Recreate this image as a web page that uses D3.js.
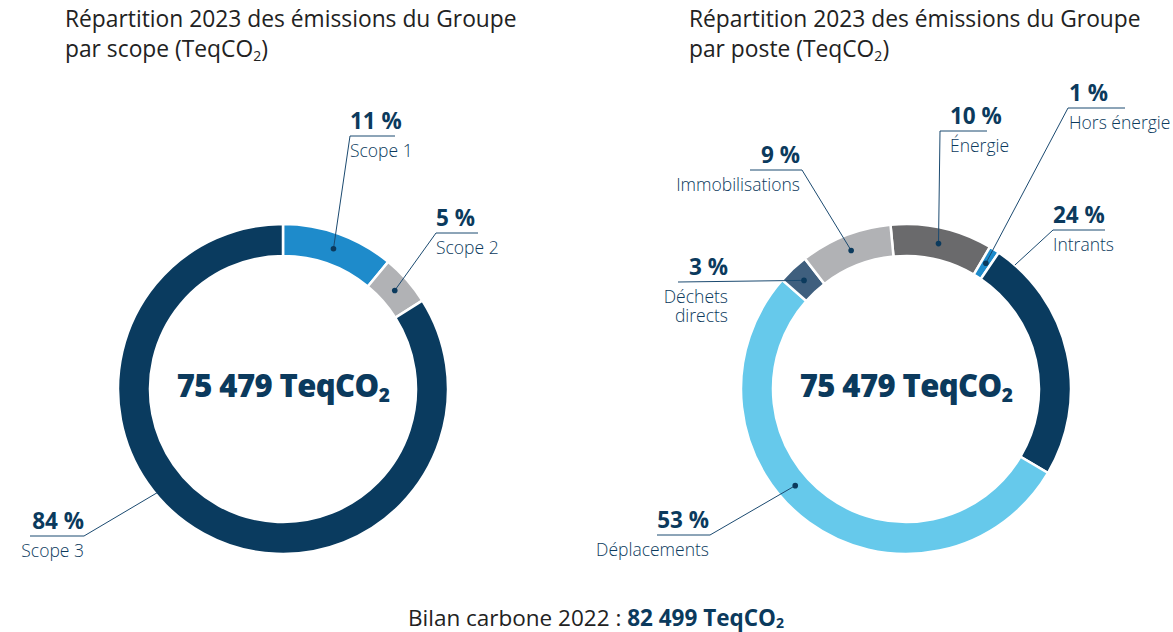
<!DOCTYPE html>
<html><head><meta charset="utf-8">
<script src="https://cdn.jsdelivr.net/npm/d3@7"></script>
<style>body{margin:0;background:#fff}svg{display:block}text{font-family:"Open Sans",sans-serif}</style>
</head><body><svg id="c" width="1173" height="632"></svg>
<script>
// ---- data ----
const scopeCategories = ["Scope 1", "Scope 2", "Scope 3"];
const scopeValues = [11, 5, 84];
const posteCategories = ["Énergie", "Hors énergie", "Intrants", "Déplacements", "Déchets directs", "Immobilisations"];
const posteValues = [10, 1, 24, 53, 3, 9];
const totalLabel = "75 479";
const total2022Label = "82 499";

// ---- styles ----
const scopeColors = ["#1e8bcb", "#b1b2b5", "#0a3b5f"];
const posteColors = ["#6a6a6c", "#1e8bcb", "#0a3b5f", "#66c9eb", "#3f5f7e", "#b1b2b5"];
const navy = "#0b3a5d", dark = "#222222";

// label layout (relative to donut centre)
const scopeLabelLayout = [
  {pts: [[67, -253], [112, -253]], side: "start", tx: 67},
  {pts: [[153, -156], [195, -156]], side: "start", tx: 153},
  {angle: 230.5, r: 163, dot: false, pts: [[-199, 147], [-253, 147]], side: "end", tx: -199}
];
const posteLabelLayout = [
  {pts: [[34, -258], [81, -258]], side: "start", tx: 44},
  {pts: [[162, -281], [219, -281]], side: "start", tx: 163},
  {angle: 41.3, r: 165, dot: false, pts: [[147, -159], [199, -159]], side: "start", tx: 147},
  {angle: 228.9, r: 147, pts: [[-196, 146], [-249, 146]], side: "end", tx: -197},
  {pts: [[-228, -107]], side: "end", tx: -178},
  {pts: [[-104, -219], [-156, -219]], side: "end", tx: -106}
];

const svg = d3.select("#c");
const R = 165, r0 = 133;

function drawTitle(x, word) {
  const t = svg.append("text").attr("x", x).attr("y", 27).attr("font-size", 22.8).attr("fill", dark);
  t.append("tspan").attr("x", x).text("Répartition 2023 des émissions du Groupe");
  t.append("tspan").attr("x", x).attr("dy", 30).text("par " + word + " (TeqCO");
  t.append("tspan").attr("font-size", 14).attr("dy", 4).text("2");
  t.append("tspan").attr("dy", -4).text(")");
}

function drawDonut(cx, cy, cats, vals, colors, layout, startDeg) {
  const g = svg.append("g").attr("transform", `translate(${cx},${cy})`);
  const a0 = startDeg * Math.PI / 180;
  const pie = d3.pie().sort(null).startAngle(a0).endAngle(a0 + 2 * Math.PI);
  const arcs = pie(vals);
  const arc = d3.arc().innerRadius(r0).outerRadius(R);
  g.selectAll("path.s").data(arcs).join("path").attr("class", "s")
    .attr("d", arc).attr("fill", (d, i) => colors[i])
    .attr("stroke", "#fff").attr("stroke-width", 2.5);

  const mid = (r0 + R) / 2;
  arcs.forEach((d, i) => {
    const L = layout[i];
    const ang = L.angle != null ? L.angle * Math.PI / 180 : (d.startAngle + d.endAngle) / 2;
    const rr = L.r != null ? L.r : mid;
    const p0 = [rr * Math.sin(ang), -rr * Math.cos(ang)];
    const pts = [p0].concat(L.pts);
    g.append("path").attr("d", d3.line()(pts)).attr("fill", "none")
      .attr("stroke", "#1b4a70").attr("stroke-width", 1);
    if (L.dot !== false) g.append("circle").attr("cx", p0[0]).attr("cy", p0[1]).attr("r", 2.8).attr("fill", navy);
    const ly = L.pts[L.pts.length - 1][1];
    g.append("text").attr("x", L.tx).attr("y", ly - 7).attr("text-anchor", L.side)
      .attr("font-size", 22.5).attr("font-weight", 700).attr("fill", navy)
      .text(vals[i] + " %");
    const lines = cats[i] === "Déchets directs" ? ["Déchets", "directs"] : [cats[i]];
    lines.forEach((s, k) => {
      g.append("text").attr("x", L.tx).attr("y", ly + 21 + k * 19).attr("text-anchor", L.side)
        .attr("font-size", 17.5).attr("font-weight", 300).attr("fill", navy).text(s);
    });
  });
  const t = g.append("text").attr("y", 8).attr("text-anchor", "middle")
    .attr("font-size", 31).attr("font-weight", 800).attr("fill", navy).attr("letter-spacing", -0.6);
  t.append("tspan").text(totalLabel + " TeqCO");
  t.append("tspan").attr("font-size", 19).attr("dy", 5).text("2");
}

drawTitle(65, "scope");
drawTitle(689, "poste");
drawDonut(283, 389, scopeCategories, scopeValues, scopeColors, scopeLabelLayout, 0);
drawDonut(906, 389, posteCategories, posteValues, posteColors, posteLabelLayout, -5.4);

const b = svg.append("text").attr("x", 596).attr("y", 626).attr("text-anchor", "middle").attr("font-size", 22.5).attr("fill", dark);
b.append("tspan").text("Bilan carbone 2022 : ");
b.append("tspan").attr("font-weight", 700).attr("fill", navy).text(total2022Label + " TeqCO");
b.append("tspan").attr("font-weight", 700).attr("fill", navy).attr("font-size", 14).attr("dy", 2).text("2");
</script></body></html>
